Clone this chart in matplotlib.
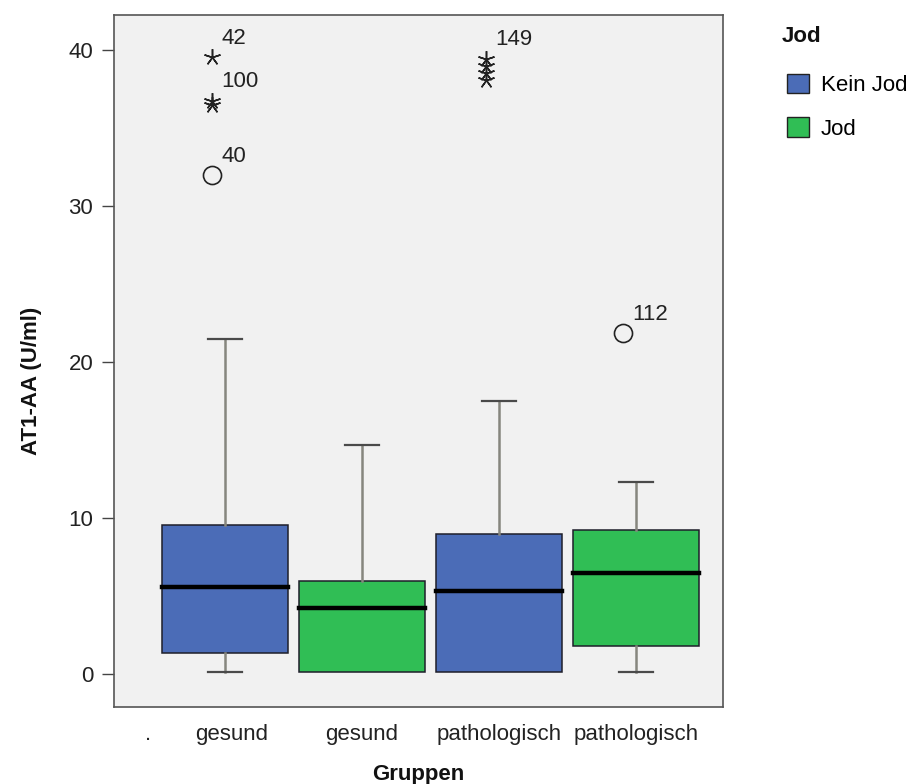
import matplotlib
matplotlib.use("Agg")
import matplotlib.pyplot as plt
from matplotlib.patches import Patch

plt.rcParams['font.family'] = ['Liberation Sans', 'DejaVu Sans']

# Box summaries, one entry per box (Gruppen x Jod)
jod_groups = ['Kein Jod', 'Jod', 'Kein Jod', 'Jod']
q1 = [1.33, 0.10, 0.10, 1.82]
median = [5.60, 4.23, 5.30, 6.50]
q3 = [9.58, 5.98, 8.99, 9.21]
whisker_low = [0.15, 0.10, 0.10, 0.10]
whisker_high = [21.47, 14.66, 17.50, 12.30]

# Outlying cases: box index, value, extreme (star) or mild (circle), case label
outlier_box = [0, 0, 0, 0, 2, 2, 2, 2, 3]
outlier_value = [39.55, 36.75, 36.50, 32.00, 39.45, 38.95, 38.50, 38.10, 21.85]
outlier_extreme = [True, True, True, False, True, True, True, True, False]
outlier_label = ['42', '100', '', '40', '149', '', '', '', '112']

tick_labels = ['.', 'gesund', 'gesund', 'pathologisch', 'pathologisch']
tick_positions = [0.44, 1.05, 2.0, 3.0, 4.0]

colors = {'Kein Jod': '#4B6CB7', 'Jod': '#30BE55'}
FS = 16

fig = plt.figure(figsize=(9.15, 7.84), dpi=100)
ax = fig.add_axes([114 / 915, 77 / 784, 609 / 915, 692 / 784])
ax.set_facecolor('#F1F1F1')

positions = [1, 2, 3, 4]
stats = []
for i in range(len(positions)):
    stats.append(dict(med=median[i], q1=q1[i], q3=q3[i],
                      whislo=whisker_low[i], whishi=whisker_high[i], fliers=[]))

bp = ax.bxp(stats, positions=positions, widths=0.925, patch_artist=True,
            showfliers=False, capwidths=0.25,
            boxprops=dict(edgecolor='#1E1E2A', linewidth=1.1),
            medianprops=dict(color='#000000', linewidth=3.2, solid_capstyle='projecting'),
            whiskerprops=dict(color='#86867E', linewidth=1.8),
            capprops=dict(color='#4A4A4A', linewidth=1.6))
for patch, g in zip(bp['boxes'], jod_groups):
    patch.set_facecolor(colors[g])
# no cap where the whisker collapses onto the box edge
for i in range(len(positions)):
    if abs(whisker_low[i] - q1[i]) < 1e-9:
        bp['caps'][2 * i].set_visible(False)

# outliers, drawn slightly left of the box centre
shift = -0.095
for b, v, ext, lab in zip(outlier_box, outlier_value, outlier_extreme, outlier_label):
    x = positions[b] + shift
    if ext:
        ax.plot(x, v, marker=(5, 2, 0), markersize=12, color='#222222',
                markeredgewidth=1.1, linestyle='none')
    else:
        ax.plot(x, v, marker='o', markersize=13, markerfacecolor='none',
                markeredgecolor='#222222', markeredgewidth=1.2, linestyle='none')
    if lab:
        ax.annotate(lab, (x, v), xytext=(7, 13.5), textcoords='offset points',
                    ha='left', va='center', fontsize=FS, color='#222222')

ax.set_xlim(0.19, 4.635)
ax.set_ylim(-2.115, 42.24)
ax.set_yticks([0, 10, 20, 30, 40])
ax.set_xticks(tick_positions)
ax.set_xticklabels(tick_labels)
ax.tick_params(axis='x', length=0, pad=12, labelsize=FS, colors='#222222')
ax.tick_params(axis='y', length=9, width=1, pad=6, labelsize=FS, colors='#222222',
               color='#444444')
for s in ax.spines.values():
    s.set_color('#555555')
    s.set_linewidth(1.2)

ax.set_xlabel('Gruppen', fontsize=FS, fontweight='bold', color='#111111')
ax.set_ylabel('AT1-AA (U/ml)', fontsize=FS, fontweight='bold', color='#111111')
ax.xaxis.set_label_coords(0.5, -0.082)
ax.yaxis.set_label_coords(-0.118, 0.471)

handles = [Patch(facecolor=colors[k], edgecolor='#222222', linewidth=1, label=k)
           for k in ['Kein Jod', 'Jod']]
fig.text(782 / 915, 1 - 36 / 784, 'Jod', fontsize=FS, fontweight='bold',
         ha='left', va='center', color='#111111')
fig.legend(handles=handles, loc='upper left', bbox_to_anchor=(787 / 915, 1 - 74 / 784),
           frameon=False, fontsize=FS, handlelength=1.0, handleheight=0.95,
           handletextpad=0.52, labelspacing=0.95, borderpad=0, borderaxespad=0)

fig.savefig('out.png', dpi=100, facecolor='white')
